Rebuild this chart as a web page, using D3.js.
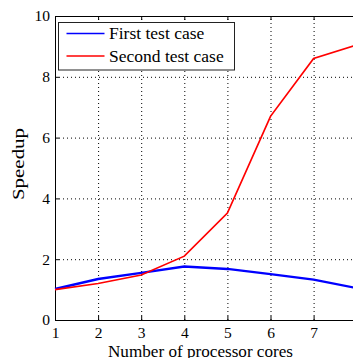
<!DOCTYPE html>
<html>
<head>
<meta charset="utf-8">
<script src="https://cdn.jsdelivr.net/npm/d3@7"></script>
<style>
  body { margin: 0; background: #fff; }
  svg text { font-family: "Liberation Serif", "Times New Roman", serif; fill: #000; }
</style>
</head>
<body>
<div id="chart"></div>
<script>
// data
let cores = [1, 2, 3, 4, 5, 6, 7, 8];
let firstCase = [1.02, 1.35, 1.55, 1.76, 1.68, 1.51, 1.33, 1.05];
let secondCase = [1.0, 1.2, 1.48, 2.1, 3.52, 6.7, 8.6, 9.05];
let seriesNames = ["First test case", "Second test case"];
let seriesColors = ["#0000ff", "#ff0000"];
let xTicks = [1, 2, 3, 4, 5, 6, 7];
let yTicks = [0, 2, 4, 6, 8, 10];

let W = 353, H = 358;
let margin = {top: 16, left: 55};
let plotW = 301.7, plotH = 304;

let svg = d3.select("#chart").append("svg")
  .attr("width", W).attr("height", H);

let xScale = d3.scaleLinear().domain([1, 8]).range([margin.left, margin.left + plotW]);
let yScale = d3.scaleLinear().domain([0, 10]).range([margin.top + plotH, margin.top]);

// gridlines
let gx = d3.axisBottom(xScale).tickValues(xTicks.slice(1)).tickFormat("").tickSize(-plotH);
svg.append("g").attr("transform", "translate(0," + (margin.top + plotH) + ")").call(gx)
  .call(g => g.select(".domain").remove())
  .selectAll("line").attr("stroke", "#000").attr("stroke-width", 1).attr("stroke-dasharray", "1,3");

let gy = d3.axisLeft(yScale).tickValues(yTicks.slice(1, -1)).tickFormat("").tickSize(-plotW);
svg.append("g").attr("transform", "translate(" + margin.left + ",0)").call(gy)
  .call(g => g.select(".domain").remove())
  .selectAll("line").attr("stroke", "#000").attr("stroke-width", 1).attr("stroke-dasharray", "1,3");

// axes (ticks inward, like matlab)
let xAxis = d3.axisBottom(xScale).tickValues(xTicks).tickFormat(d3.format("d"))
  .tickSize(-4).tickSizeOuter(0).tickPadding(7);
svg.append("g").attr("transform", "translate(0," + (margin.top + plotH) + ")").call(xAxis)
  .call(g => g.selectAll("text").style("font-size", "15.5px"));

let xTop = d3.axisTop(xScale).tickValues(xTicks).tickSize(-4).tickSizeOuter(0).tickFormat("");
svg.append("g").attr("transform", "translate(0," + margin.top + ")").call(xTop);

let yAxis = d3.axisLeft(yScale).tickValues(yTicks).tickFormat(d3.format("d"))
  .tickSize(-4).tickSizeOuter(0).tickPadding(5);
svg.append("g").attr("transform", "translate(" + margin.left + ",0)").call(yAxis)
  .call(g => g.selectAll("text").style("font-size", "15.5px"));

svg.selectAll(".domain").attr("stroke", "#000");

// lines
let line = d3.line().x((d, i) => xScale(cores[i])).y(d => yScale(d));
svg.append("path").datum(firstCase).attr("d", line)
  .attr("fill", "none").attr("stroke", seriesColors[0]).attr("stroke-width", 2.4);
svg.append("path").datum(secondCase).attr("d", line)
  .attr("fill", "none").attr("stroke", seriesColors[1]).attr("stroke-width", 1.7);

// legend
let leg = svg.append("g").attr("transform", "translate(58.5,22.5)");
leg.append("rect").attr("width", 176).attr("height", 47.5)
  .attr("fill", "#fff").attr("stroke", "#222").attr("stroke-width", 1);
seriesNames.forEach(function(name, i) {
  let yy = 11 + i * 22.5;
  leg.append("line").attr("x1", 8).attr("x2", 46).attr("y1", yy).attr("y2", yy)
    .attr("stroke", seriesColors[i]).attr("stroke-width", 1.7);
  leg.append("text").attr("x", 50.5).attr("y", yy + 5.5).style("font-size", "17.5px").text(name);
});

// axis labels
svg.append("text")
  .attr("x", 200.5).attr("y", 356.5)
  .style("text-anchor", "middle").style("font-size", "17.5px")
  .attr("textLength", 185).attr("lengthAdjust", "spacingAndGlyphs")
  .text("Number of processor cores");

svg.append("text")
  .attr("transform", "translate(23.5,164) rotate(-90)")
  .style("text-anchor", "middle").style("font-size", "17.5px")
  .attr("textLength", 72).attr("lengthAdjust", "spacingAndGlyphs")
  .text("Speedup");
</script>
</body>
</html>
